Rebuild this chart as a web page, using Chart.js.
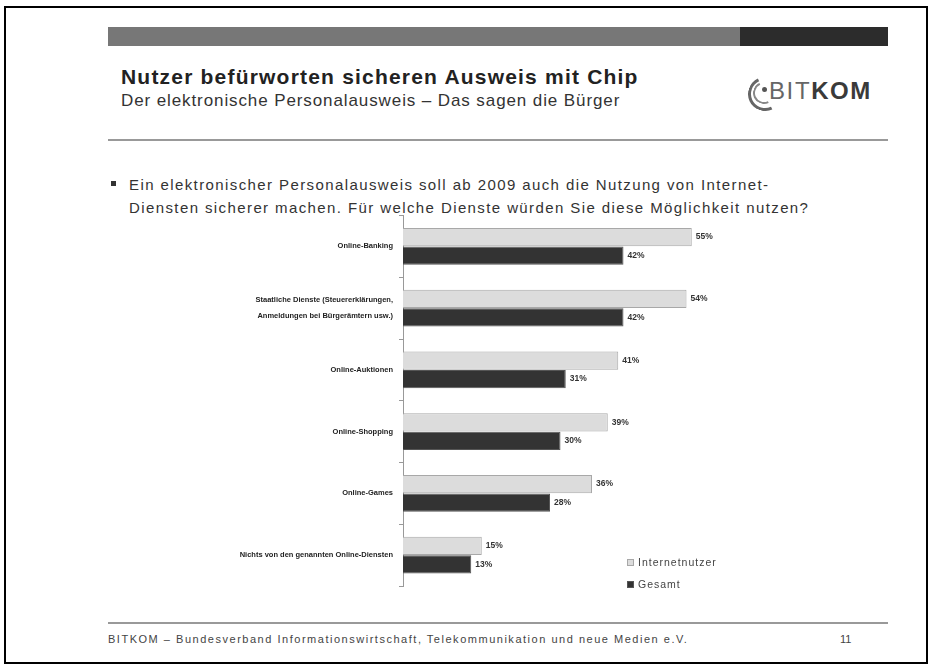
<!DOCTYPE html>
<html>
<head>
<meta charset="utf-8">
<script src="https://cdn.jsdelivr.net/npm/chart.js@4.4.0/dist/chart.umd.min.js"></script>
<style>
  body { margin: 0; background: #fff; font-family: Arial, "Liberation Sans", sans-serif; }
  #page { position: relative; width: 935px; height: 668px; overflow: hidden; }
  .abs { position: absolute; }
  #frame { left: 4px; top: 6px; width: 920px; height: 654px; border: 2px solid #000; }
  #bar1 { left: 108px; top: 27px; width: 632px; height: 19px; background: #777; }
  #bar2 { left: 740px; top: 27px; width: 148px; height: 19px; background: #2c2c2c; }
  #title { left: 121px; top: 65px; font-size: 21px; letter-spacing: 1.2px; font-weight: bold; color: #222; white-space: nowrap; }
  #subtitle { left: 121px; top: 91px; font-size: 17px; letter-spacing: 0.9px; color: #333; white-space: nowrap; }
  #rule1 { left: 108px; top: 139px; width: 780px; height: 2px; background: #999; }
  #bullet { left: 111px; top: 181px; width: 5px; height: 5px; background: #333; }
  #question { left: 129px; top: 173px; font-size: 15px; letter-spacing: 1.4px; line-height: 23px; color: #333; white-space: nowrap; }
  #rule2 { left: 108px; top: 622px; width: 780px; height: 2px; background: #999; }
  #footer { left: 108px; top: 633px; font-size: 11px; letter-spacing: 1.52px; color: #444; white-space: nowrap; }
  #pageno { left: 840px; top: 633px; font-size: 11px; color: #444; }
  #logo { left: 748px; top: 76px; width: 140px; height: 36px; }
  #arc { left: 0; top: 1px; width: 28px; height: 28px; border: 3px solid #666; border-right-color: transparent; border-top-color: transparent; border-radius: 50%; transform: rotate(20deg); }
  #arc2 { left: 5px; top: 6px; width: 18px; height: 18px; border: 2px solid #888; border-right-color: transparent; border-top-color: transparent; border-radius: 50%; transform: rotate(20deg); }
  #dot { left: 14px; top: 11px; width: 5px; height: 5px; background: #555; border-radius: 50%; }
  #logotext { left: 21px; top: 1px; font-size: 24px; letter-spacing: 1.6px; color: #666; white-space: nowrap; }
  #logotext b { color: #3a3a3a; }
  #chart { left: 230px; top: 205px; }
</style>
</head>
<body>
<div id="page">
  <div id="frame" class="abs"></div>
  <div id="bar1" class="abs"></div>
  <div id="bar2" class="abs"></div>
  <div id="title" class="abs">Nutzer befürworten sicheren Ausweis mit Chip</div>
  <div id="subtitle" class="abs">Der elektronische Personalausweis – Das sagen die Bürger</div>
  <div id="logo" class="abs">
    <div id="arc" class="abs"></div>
    <div id="arc2" class="abs"></div>
    <div id="dot" class="abs"></div>
    <div id="logotext" class="abs">BIT<b>KOM</b></div>
  </div>
  <div id="rule1" class="abs"></div>
  <div id="bullet" class="abs"></div>
  <div id="question" class="abs">Ein elektronischer Personalausweis soll ab 2009 auch die Nutzung von Internet-<br>Diensten sicherer machen. Für welche Dienste würden Sie diese Möglichkeit nutzen?</div>
  <canvas id="chart" class="abs" width="510" height="395"></canvas>
  <div id="rule2" class="abs"></div>
  <div id="footer" class="abs">BITKOM – Bundesverband Informationswirtschaft, Telekommunikation und neue Medien e.V.</div>
  <div id="pageno" class="abs">11</div>
</div>
<script>
// categories (label rows, multi-line where the slide wraps)
const categories = [
  'Online-Banking',
  ['Staatliche Dienste (Steuererklärungen,', 'Anmeldungen bei Bürgerämtern usw.)'],
  'Online-Auktionen',
  'Online-Shopping',
  'Online-Games',
  'Nichts von den genannten Online-Diensten'
];
const internetnutzer = [55, 54, 41, 39, 36, 15];
const gesamt = [42, 42, 31, 30, 28, 13];
const seriesNames = ['Internetnutzer', 'Gesamt'];

// value labels at the end of each bar
const valueLabels = {
  id: 'valueLabels',
  afterDatasetsDraw(chart) {
    const ctx = chart.ctx;
    ctx.save();
    ctx.font = 'bold 8.5px Arial, "Liberation Sans"';
    ctx.fillStyle = '#333';
    ctx.textBaseline = 'middle';
    chart.data.datasets.forEach((ds, i) => {
      chart.getDatasetMeta(i).data.forEach((bar, j) => {
        ctx.fillText(ds.data[j] + '%', bar.x + 4, bar.y);
      });
    });
    ctx.restore();
  }
};

// small legend bottom right, inside the plot
const cornerLegend = {
  id: 'cornerLegend',
  afterDraw(chart) {
    const ctx = chart.ctx;
    ctx.save();
    ctx.font = '10.5px Arial, "Liberation Sans"';
    ctx.letterSpacing = '1px';
    ctx.textBaseline = 'middle';
    chart.data.datasets.forEach((ds, i) => {
      let x = 397, y = 357 + i * 22;
      ctx.fillStyle = ds.backgroundColor;
      ctx.strokeStyle = ds.borderColor;
      ctx.lineWidth = 1;
      ctx.fillRect(x, y - 3, 7, 7);
      ctx.strokeRect(x + 0.5, y - 2.5, 6, 6);
      ctx.fillStyle = '#444';
      ctx.fillText(ds.label, x + 11, y + 1);
    });
    ctx.restore();
  }
};

let ctx = document.getElementById('chart').getContext('2d');
let myChart = new Chart(ctx, {
  type: 'bar',
  data: {
    labels: categories,
    datasets: [{
      label: seriesNames[0],
      data: internetnutzer,
      backgroundColor: '#dcdcdc',
      borderColor: '#a8a8a8',
      borderWidth: 1
    }, {
      label: seriesNames[1],
      data: gesamt,
      backgroundColor: '#333333',
      borderColor: '#555555',
      borderWidth: 1
    }]
  },
  options: {
    indexAxis: 'y',
    responsive: false,
    animation: false,
    devicePixelRatio: 1,
    categoryPercentage: 0.6,
    barPercentage: 0.98,
    layout: { padding: { top: 5, bottom: 14, right: 22, left: 0 } },
    plugins: { legend: { display: false }, tooltip: { enabled: false } },
    scales: {
      x: { display: false, min: 0, max: 60 },
      y: {
        afterFit(scale) { scale.width = 173; },
        grid: { offset: true, drawOnChartArea: false, drawTicks: true, tickLength: 4, color: '#999' },
        border: { display: true, color: '#999', width: 1 },
        ticks: {
          color: '#222', padding: 6,
          font: (c) => ({ family: 'Arial, "Liberation Sans"', size: 7.5, weight: 'bold', lineHeight: c.index === 1 ? 2.2 : 1.2 })
        }
      }
    }
  },
  plugins: [valueLabels, cornerLegend]
});
</script>
</body>
</html>
